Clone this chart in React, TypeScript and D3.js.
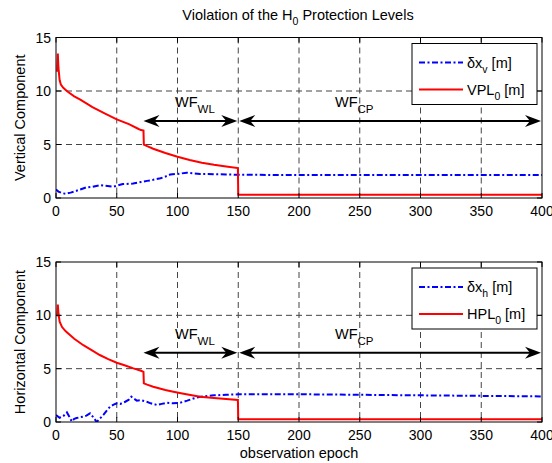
import React from "react";
import * as d3 from "d3";

// ---------- data ----------
const xTicks = [0, 50, 100, 150, 200, 250, 300, 350, 400];
const yTicks = [0, 5, 10, 15];

const vplX = [1, 1.5, 2, 3, 4, 6, 8, 10, 15, 20, 30, 40, 50, 60, 68, 70, 72, 72.3, 75, 80, 90, 100, 110, 120, 130, 140, 149.7, 150, 400];
const vplY = [11.8, 13.5, 12.2, 11.0, 10.6, 10.3, 10.1, 9.9, 9.5, 9.2, 8.5, 7.9, 7.35, 6.9, 6.45, 6.35, 6.3, 5.0, 4.85, 4.6, 4.2, 3.85, 3.55, 3.3, 3.1, 2.95, 2.8, 0.3, 0.3];

const dxvX = [0, 2, 5, 8, 12, 15, 20, 25, 30, 36, 40, 47, 50, 55, 63.5, 70, 75, 80, 86, 90, 94, 100, 107.6, 113, 118.6, 125, 130, 140, 150, 200, 250, 300, 350, 400];
const dxvY = [0.8, 0.6, 0.45, 0.4, 0.5, 0.6, 0.8, 1.0, 1.05, 1.2, 1.15, 1.05, 1.15, 1.3, 1.35, 1.5, 1.6, 1.7, 1.84, 2.0, 2.2, 2.25, 2.36, 2.3, 2.24, 2.25, 2.22, 2.2, 2.17, 2.15, 2.15, 2.15, 2.15, 2.15];

const hplX = [1, 1.5, 2, 3, 5, 8, 11.5, 15, 22.5, 30, 36, 43, 50, 57, 63.7, 70, 72, 72.3, 75, 80, 90, 96.6, 105, 118.6, 130, 140, 149.7, 150, 400];
const hplY = [9.9, 11.0, 10.2, 9.4, 8.9, 8.5, 8.15, 7.8, 7.2, 6.7, 6.28, 5.9, 5.56, 5.3, 5.03, 4.8, 4.7, 3.62, 3.5, 3.31, 3.0, 2.84, 2.65, 2.37, 2.25, 2.15, 2.06, 0.25, 0.25];

const dxhX = [0, 3, 6, 9, 11, 13, 15, 17, 20, 22.5, 25, 28, 31, 33.5, 36, 39, 42, 44.5, 47, 50, 53, 57, 60, 62, 64, 66.5, 70, 74.7, 78, 83, 87, 91, 96, 102, 108, 113, 118.6, 125, 130, 140, 150, 175, 200, 250, 300, 350, 400];
const dxhY = [0.66, 0.4, 0.55, 0.9, 0.5, 0.05, 0.3, 0.37, 0.45, 0.5, 0.6, 0.81, 0.4, 0.0, 0.3, 0.66, 1.1, 1.43, 1.6, 1.75, 1.7, 1.9, 2.1, 2.37, 2.2, 2.0, 2.05, 1.9, 1.75, 1.6, 1.7, 1.8, 1.75, 1.8, 2.0, 2.2, 2.37, 2.45, 2.5, 2.55, 2.6, 2.6, 2.6, 2.55, 2.5, 2.45, 2.4];

// arrows: [from, to] in epochs, and height
const wlRange = [72, 150];
const cpRange = [150, 400];
const arrowYTop = 7.2;
const arrowYBot = 6.5;

// ---------- layout ----------
const W = 552, H = 463;
const L = 56, R = 542;
const FONT = "'Liberation Sans', Arial, Helvetica, sans-serif";

const x = d3.scaleLinear().domain([0, 400]).range([L, R]);

function Arrow({ x1, x2, y }: { x1: number; x2: number; y: number }) {
  const head = (tx: number, dir: number) => {
    const p = [
      [tx, y],
      [tx - dir * 16, y - 6],
      [tx - dir * 11, y],
      [tx - dir * 16, y + 6],
    ];
    return "M" + p.map((q) => q.join(",")).join("L") + "Z";
  };
  return (
    <g>
      <line x1={x1 + 8} x2={x2 - 8} y1={y} y2={y} stroke="#000" strokeWidth={2} />
      <path d={head(x1, -1)} fill="#000" />
      <path d={head(x2, 1)} fill="#000" />
    </g>
  );
}

function Panel(props: {
  top: number; bottom: number;
  redX: number[]; redY: number[]; blueX: number[]; blueY: number[];
  ylabel: string; blueSub: string; redName: string; arrowY: number;
  showXLabel: boolean;
}) {
  const { top, bottom } = props;
  const y = d3.scaleLinear().domain([0, 15]).range([bottom, top]);
  const line = d3.line<[number, number]>().x((d) => x(d[0])).y((d) => y(d[1]));
  const red = line(props.redX.map((v, i) => [v, props.redY[i]]));
  const blue = line(props.blueX.map((v, i) => [v, props.blueY[i]]));
  const ay = y(props.arrowY);
  const lgTop = top + 6;
  return (
    <g>
      {/* grid */}
      {xTicks.slice(1, -1).map((t) => (
        <line key={"gx" + t} x1={x(t)} x2={x(t)} y1={top} y2={bottom} stroke="#444" strokeWidth={1} strokeDasharray="6,4" />
      ))}
      {yTicks.slice(1, -1).map((t) => (
        <line key={"gy" + t} x1={L} x2={R} y1={y(t)} y2={y(t)} stroke="#444" strokeWidth={1} strokeDasharray="6,4" />
      ))}
      {/* series */}
      <clipPath id={"clip" + top}>
        <rect x={L} y={top} width={R - L} height={bottom - top} />
      </clipPath>
      <g clipPath={`url(#clip${top})`}>
        <path d={blue || ""} fill="none" stroke="#0000ff" strokeWidth={2} strokeDasharray="6,2.5,2,2.5" />
        <path d={red || ""} fill="none" stroke="#ff0000" strokeWidth={2} />
      </g>
      {/* arrows */}
      <Arrow x1={x(wlRange[0])} x2={x(wlRange[1]) - 1} y={ay} />
      <Arrow x1={x(cpRange[0]) + 1} x2={x(cpRange[1]) - 1} y={ay} />
      <text x={175} y={ay - 14} fontSize={14.5} fontFamily={FONT}>
        WF<tspan dy={6.5} fontSize={11.5}>WL</tspan>
      </text>
      <text x={335} y={ay - 14} fontSize={14.5} fontFamily={FONT}>
        WF<tspan dy={6.5} fontSize={11.5}>CP</tspan>
      </text>
      {/* axes box */}
      <rect x={L} y={top} width={R - L} height={bottom - top} fill="none" stroke="#000" strokeWidth={1} />
      {xTicks.map((t) => (
        <g key={"tx" + t}>
          <line x1={x(t)} x2={x(t)} y1={bottom} y2={bottom - 5} stroke="#000" />
          <line x1={x(t)} x2={x(t)} y1={top} y2={top + 5} stroke="#000" />
          <text x={x(t)} y={bottom + 17.5} textAnchor="middle" fontSize={14} fontFamily={FONT}>{t}</text>
        </g>
      ))}
      {yTicks.map((t) => (
        <g key={"ty" + t}>
          <line x1={L} x2={L + 5} y1={y(t)} y2={y(t)} stroke="#000" />
          <line x1={R} x2={R - 5} y1={y(t)} y2={y(t)} stroke="#000" />
          <text x={51} y={y(t) + 5} textAnchor="end" fontSize={14} fontFamily={FONT}>{t}</text>
        </g>
      ))}
      <text transform={`translate(25,${(top + bottom) / 2}) rotate(-90)`} textAnchor="middle" fontSize={14.5} fontFamily={FONT}>
        {props.ylabel}
      </text>
      {/* legend */}
      <rect x={412} y={lgTop} width={125} height={61} fill="#fff" stroke="#000" strokeWidth={1} />
      <line x1={419} x2={463} y1={lgTop + 19} y2={lgTop + 19} stroke="#0000ff" strokeWidth={2} strokeDasharray="6,2.5,2,2.5" />
      <line x1={419} x2={463} y1={lgTop + 46} y2={lgTop + 46} stroke="#ff0000" strokeWidth={2} />
      <text x={467} y={lgTop + 24} fontSize={14.5} fontFamily={FONT}>
        δx<tspan dy={5} fontSize={10.5}>{props.blueSub}</tspan><tspan dy={-5}> [m]</tspan>
      </text>
      <text x={467} y={lgTop + 51} fontSize={14.5} fontFamily={FONT}>
        {props.redName}<tspan dy={5} fontSize={10.5}>0</tspan><tspan dy={-5}> [m]</tspan>
      </text>
      {props.showXLabel && (
        <text x={(L + R) / 2} y={bottom + 36} textAnchor="middle" fontSize={14.5} fontFamily={FONT}>
          observation epoch
        </text>
      )}
    </g>
  );
}

export default function App() {
  return (
    <svg width={W} height={H} style={{ position: "absolute", left: 0, top: 0, background: "#fff" }}>
      <rect x={0} y={0} width={W} height={H} fill="#fff" />
      <text x={298} y={19.5} textAnchor="middle" fontSize={14.5} fontFamily={FONT}>
        Violation of the H<tspan dy={5} fontSize={10.5}>0</tspan><tspan dy={-5}> Protection Levels</tspan>
      </text>
      <Panel top={37.5} bottom={198} redX={vplX} redY={vplY} blueX={dxvX} blueY={dxvY}
        ylabel="Vertical Component" blueSub="v" redName="VPL" arrowY={arrowYTop} showXLabel={false} />
      <Panel top={262} bottom={422} redX={hplX} redY={hplY} blueX={dxhX} blueY={dxhY}
        ylabel="Horizontal Component" blueSub="h" redName="HPL" arrowY={arrowYBot} showXLabel={true} />
    </svg>
  );
}
